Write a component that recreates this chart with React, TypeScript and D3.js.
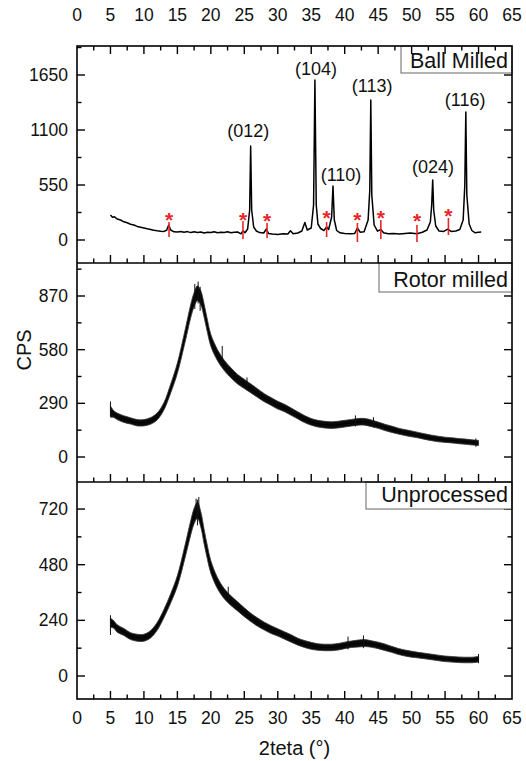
import React from 'react';
import * as d3 from 'd3';

const W = 526;
const H = 761;

// ---------- data ----------
const xMajorTicks = [0, 5, 10, 15, 20, 25, 30, 35, 40, 45, 50, 55, 60, 65];
const xMinorTicks = [2.5, 7.5, 12.5, 17.5, 22.5, 27.5, 32.5, 37.5, 42.5, 47.5, 52.5, 57.5, 62.5];

const ballTicks = [0, 550, 1100, 1650];
const rotorTicks = [0, 290, 580, 870];
const unprocTicks = [0, 240, 480, 720];

// Ball milled pattern: [2theta, CPS]
const ballMilled: [number, number][] = [
  [5.0, 250], [5.3, 228], [5.6, 232], [6, 210], [6.5, 200], [7, 182], [7.5, 172], [8, 158], [8.5, 150],
  [9, 136], [9.5, 128], [10, 120], [10.5, 112], [11, 105], [11.5, 98], [12, 92], [12.5, 88], [13, 86],
  [13.4, 98], [13.7, 150], [14.0, 100], [14.5, 82], [15, 80], [15.5, 86], [16, 78], [16.5, 84], [17, 74],
  [17.5, 82], [18, 76], [18.5, 80], [19, 70], [19.5, 78], [20, 74], [20.5, 82], [21, 72], [21.5, 78],
  [22, 76], [22.5, 82], [23, 72], [23.5, 78], [24, 80], [24.5, 62], [24.8, 92], [25.1, 72], [25.5, 110],
  [25.8, 300], [25.95, 940], [26.1, 300], [26.4, 130], [26.8, 90], [27.3, 74], [27.9, 70], [28.3, 110],
  [28.6, 66], [29.2, 60], [30, 56], [30.8, 62], [31.5, 60], [31.9, 92], [32.3, 62], [33, 70], [33.6, 90],
  [34.05, 175], [34.4, 100], [35.0, 120], [35.35, 350], [35.55, 1600], [35.75, 350], [36.0, 160],
  [36.4, 115], [36.9, 95], [37.3, 130], [37.6, 105], [38.05, 230], [38.25, 540], [38.45, 200],
  [38.8, 95], [39.3, 72], [40, 64], [40.8, 62], [41.5, 66], [41.9, 120], [42.3, 78], [42.9, 82],
  [43.5, 200], [43.75, 500], [43.9, 1400], [44.05, 450], [44.4, 150], [44.9, 88], [45.4, 105],
  [45.8, 72], [46.5, 62], [47.3, 64], [48.2, 60], [49.0, 66], [49.8, 70], [50.8, 62], [51.6, 78],
  [52.3, 100], [52.8, 180], [53.0, 350], [53.15, 600], [53.3, 300], [53.6, 140], [54.1, 90],
  [54.8, 86], [55.4, 108], [55.9, 86], [56.6, 90], [57.2, 105], [57.7, 200], [57.95, 550],
  [58.1, 1280], [58.25, 450], [58.6, 160], [59.0, 95], [59.5, 72], [60.0, 78], [60.4, 80],
];

// Red asterisk markers: [2theta, star CPS, line top CPS, line bottom CPS]
const ballStars: [number, number, number, number][] = [
  [13.75, 250, 180, 30], [24.8, 250, 190, 10], [28.4, 240, 170, 20], [37.3, 270, 180, 30],
  [41.9, 250, 170, -20], [45.4, 270, 200, 10], [50.8, 240, 150, -20], [55.5, 290, 220, 50],
];

// Peak labels: [label, 2theta, CPS]
const ballPeakLabels: [string, number, number][] = [
  ['(012)', 25.6, 1030], ['(104)', 35.7, 1650], ['(110)', 39.45, 590],
  ['(113)', 44.1, 1480], ['(024)', 53.2, 670], ['(116)', 58.0, 1340],
];

// Rotor milled: [2theta, mean CPS, half noise band]
const rotorMilled: [number, number, number][] = [
  [5.0, 245, 30], [5.5, 232, 18], [6, 220, 18], [7, 205, 18], [8, 195, 17], [9, 185, 17], [10, 185, 17],
  [11, 195, 18], [12, 220, 19], [13, 275, 20], [14, 370, 24], [15, 480, 28], [16, 630, 32],
  [16.5, 710, 34], [17, 790, 36], [17.5, 850, 38], [18, 885, 40], [18.5, 860, 38], [19, 790, 36],
  [19.5, 705, 34], [20, 630, 32], [21, 550, 30], [22, 495, 28], [23, 455, 27], [24, 420, 26],
  [25, 395, 25], [26, 370, 24], [27, 345, 23], [28, 320, 22], [29, 300, 21], [30, 280, 21],
  [31, 265, 20], [32, 245, 20], [33, 225, 19], [34, 205, 19], [35, 190, 18], [36, 180, 18],
  [37, 175, 18], [38, 172, 18], [39, 175, 18], [40, 180, 18], [41, 185, 18], [42, 190, 18],
  [43, 190, 18], [44, 182, 18], [45, 172, 17], [46, 160, 17], [47, 150, 17], [48, 140, 16],
  [49, 132, 16], [50, 125, 16], [51, 118, 15], [52, 110, 15], [53, 103, 15], [54, 97, 15],
  [55, 93, 14], [56, 90, 14], [57, 86, 14], [58, 83, 14], [59, 79, 14], [60, 76, 14],
];
// isolated noise spikes: [2theta, low CPS, high CPS]
const rotorSpikes: [number, number, number][] = [
  [5.0, 220, 300], [17.6, 800, 935], [18.1, 830, 948], [18.4, 790, 920], [21.7, 500, 600],
  [25.4, 360, 430], [41.6, 165, 225], [44.3, 160, 215], [59.6, 55, 100],
];

// Unprocessed: [2theta, mean CPS, half noise band]
const unprocessed: [number, number, number][] = [
  [5.0, 230, 20], [5.5, 222, 16], [6, 205, 16], [7, 190, 15], [8, 172, 15], [9, 165, 15], [10, 165, 15],
  [11, 180, 16], [12, 215, 17], [13, 270, 18], [14, 335, 20], [15, 410, 23], [16, 520, 27],
  [16.5, 580, 29], [17, 640, 31], [17.5, 690, 33], [18, 715, 35], [18.5, 675, 33], [19, 600, 31],
  [19.5, 530, 29], [20, 470, 27], [21, 400, 24], [22, 355, 22], [23, 325, 21], [24, 300, 20],
  [25, 275, 19], [26, 252, 18], [27, 232, 18], [28, 215, 17], [29, 200, 17], [30, 188, 16],
  [31, 175, 16], [32, 162, 16], [33, 148, 15], [34, 138, 15], [35, 130, 15], [36, 125, 14],
  [37, 123, 14], [38, 123, 14], [39, 126, 14], [40, 132, 14], [41, 137, 14], [42, 140, 15],
  [43, 142, 15], [44, 138, 14], [45, 132, 14], [46, 124, 14], [47, 115, 13], [48, 106, 13],
  [49, 99, 13], [50, 94, 13], [51, 90, 12], [52, 86, 12], [53, 82, 12], [54, 78, 12],
  [55, 74, 12], [56, 72, 12], [57, 70, 12], [58, 69, 12], [59, 69, 12], [60, 72, 12],
];
const unprocSpikes: [number, number, number][] = [
  [5.0, 177, 262], [17.8, 680, 765], [18.2, 690, 772], [18.0, 650, 760], [22.6, 320, 385],
  [40.5, 115, 170], [42.8, 120, 175], [60.0, 55, 95],
];

// ---------- layout ----------
const LEFT = 77;
const RIGHT = 512;
const FONT = 'Arial, Liberation Sans, sans-serif';

const x = d3.scaleLinear().domain([0, 65]).range([LEFT, RIGHT]);

type Panel = {
  name: string;
  top: number;
  bottom: number;
  domain: [number, number];
  ticks: number[];
  minor: number;
  box: [number, number, number, number]; // x, y, w, h
  textBaseline: number;
};

const panels: Panel[] = [
  { name: 'Ball Milled', top: 46, bottom: 263, domain: [-230, 1940], ticks: ballTicks, minor: 275, box: [401, 46, 111, 27], textBaseline: 68 },
  { name: 'Rotor milled', top: 263, bottom: 482, domain: [-135.1, 1048.3], ticks: rotorTicks, minor: 145, box: [379, 263, 133, 29], textBaseline: 287 },
  { name: 'Unprocessed', top: 482, bottom: 699, domain: [-99.2, 836.6], ticks: unprocTicks, minor: 120, box: [366, 482, 146, 27], textBaseline: 502 },
];

function yScale(p: Panel) {
  return d3.scaleLinear().domain(p.domain).range([p.bottom, p.top]);
}

function YTicks({ p }: { p: Panel }) {
  const y = yScale(p);
  const minors: number[] = [];
  for (let v = p.minor; v < p.domain[1]; v += p.minor * 2) minors.push(v);
  for (let v = -p.minor; v > p.domain[0]; v -= p.minor * 2) minors.push(v);
  return (
    <g>
      {p.ticks.map((t) => (
        <g key={'M' + t}>
          <line x1={LEFT} x2={LEFT + 8} y1={y(t)} y2={y(t)} stroke="#000" strokeWidth={1.4} />
          <line x1={RIGHT} x2={RIGHT - 8} y1={y(t)} y2={y(t)} stroke="#000" strokeWidth={1.4} />
          <text x={68} y={y(t) + 6} textAnchor="end" fontSize={17.5} fontFamily={FONT} fill="#111">{t}</text>
        </g>
      ))}
      {minors.map((t) => (
        <g key={'m' + t}>
          <line x1={LEFT} x2={LEFT + 4.5} y1={y(t)} y2={y(t)} stroke="#000" strokeWidth={1.4} />
          <line x1={RIGHT} x2={RIGHT - 4.5} y1={y(t)} y2={y(t)} stroke="#000" strokeWidth={1.4} />
        </g>
      ))}
    </g>
  );
}

function XTicks({ yPos, dir }: { yPos: number; dir: number }) {
  return (
    <g>
      {xMajorTicks.filter((t) => t > 0 && t < 65).map((t) => (
        <line key={'M' + t} x1={x(t)} x2={x(t)} y1={yPos} y2={yPos + dir * 8} stroke="#000" strokeWidth={1.4} />
      ))}
      {xMinorTicks.map((t) => (
        <line key={'m' + t} x1={x(t)} x2={x(t)} y1={yPos} y2={yPos + dir * 4.5} stroke="#000" strokeWidth={1.4} />
      ))}
    </g>
  );
}

function NoisyPanel({ p, rows, spikes, id }: { p: Panel; rows: [number, number, number][]; spikes: [number, number, number][]; id: string }) {
  const y = yScale(p);
  const area = d3
    .area<[number, number, number]>()
    .x((d) => x(d[0]))
    .y0((d) => y(d[1] - d[2]))
    .y1((d) => y(d[1] + d[2]))
    .curve(d3.curveCatmullRom);
  const mid = d3
    .line<[number, number, number]>()
    .x((d) => x(d[0]))
    .y((d) => y(d[1]))
    .curve(d3.curveCatmullRom);
  return (
    <g clipPath={`url(#${id})`}>
      <path d={area(rows) || ''} fill="#0a0a0a" stroke="#333" strokeWidth={0.8} />
      <path d={mid(rows) || ''} fill="none" stroke="#000" strokeWidth={1} />
      {spikes.map((s, i) => (
        <line key={i} x1={x(s[0])} x2={x(s[0])} y1={y(s[1])} y2={y(s[2])} stroke="#111" strokeWidth={1} />
      ))}
    </g>
  );
}

export default function App() {
  const pBall = panels[0];
  const yBall = yScale(pBall);
  const ballLine = d3
    .line<[number, number]>()
    .x((d) => x(d[0]))
    .y((d) => yBall(d[1]));

  return (
    <svg width={W} height={H} style={{ position: 'absolute', left: 0, top: 0, background: '#fff' }} xmlns="http://www.w3.org/2000/svg">
      <rect width={W} height={H} fill="#fff" />
      <defs>
        {panels.map((p, i) => (
          <clipPath id={'clip' + i} key={i}>
            <rect x={LEFT} y={p.top} width={RIGHT - LEFT} height={p.bottom - p.top} />
          </clipPath>
        ))}
      </defs>

      {/* top x tick labels */}
      {xMajorTicks.map((t) => (
        <text key={'tt' + t} x={x(t)} y={21} textAnchor="middle" fontSize={17.5} fontFamily={FONT} fill="#111">{t}</text>
      ))}
      {/* bottom x tick labels */}
      {xMajorTicks.map((t) => (
        <text key={'bt' + t} x={x(t)} y={724} textAnchor="middle" fontSize={17.5} fontFamily={FONT} fill="#111">{t}</text>
      ))}

      {/* Ball milled data */}
      <g clipPath="url(#clip0)">
        <path d={ballLine(ballMilled) || ''} fill="none" stroke="#000" strokeWidth={1.5} strokeLinejoin="round" />
        {ballStars.map((s, i) => (
          <g key={i}>
            <line x1={x(s[0])} x2={x(s[0])} y1={yBall(s[2])} y2={yBall(s[3])} stroke="#e8262a" strokeWidth={1.6} />
            <text x={x(s[0])} y={yBall(s[1]) + 12} textAnchor="middle" fontSize={21} fontWeight="bold" fontFamily={FONT} fill="#e8262a">*</text>
          </g>
        ))}
      </g>
      {ballPeakLabels.map((l, i) => (
        <text key={i} x={x(l[1])} y={yBall(l[2])} textAnchor="middle" fontSize={18} fontFamily={FONT} fill="#111">{l[0]}</text>
      ))}

      <NoisyPanel p={panels[1]} rows={rotorMilled} spikes={rotorSpikes} id="clip1" />
      <NoisyPanel p={panels[2]} rows={unprocessed} spikes={unprocSpikes} id="clip2" />

      {/* frames, ticks, legend boxes */}
      {panels.map((p, i) => (
        <g key={'f' + i}>
          <YTicks p={p} />
          <XTicks yPos={p.bottom} dir={-1} />
          <rect x={p.box[0]} y={p.box[1]} width={p.box[2]} height={p.box[3]} fill="#fff" stroke="#666" strokeWidth={1} />
          <text x={p.box[0] + p.box[2] - 4} y={p.textBaseline} textAnchor="end" fontSize={21.5} fontFamily={FONT} fill="#111">{p.name}</text>
        </g>
      ))}
      <XTicks yPos={panels[0].top} dir={1} />
      <rect x={LEFT} y={46} width={RIGHT - LEFT} height={699 - 46} fill="none" stroke="#000" strokeWidth={1.6} />
      {panels.slice(0, 2).map((p, i) => (
        <line key={'sep' + i} x1={LEFT} x2={RIGHT} y1={p.bottom} y2={p.bottom} stroke="#000" strokeWidth={1.6} />
      ))}

      {/* axis titles */}
      <text transform={`translate(31, 350) rotate(-90)`} textAnchor="middle" fontSize={20} fontFamily={FONT} fill="#111">CPS</text>
      <text x={(LEFT + RIGHT) / 2} y={755} textAnchor="middle" fontSize={20} fontFamily={FONT} fill="#111">2teta (°)</text>
    </svg>
  );
}
